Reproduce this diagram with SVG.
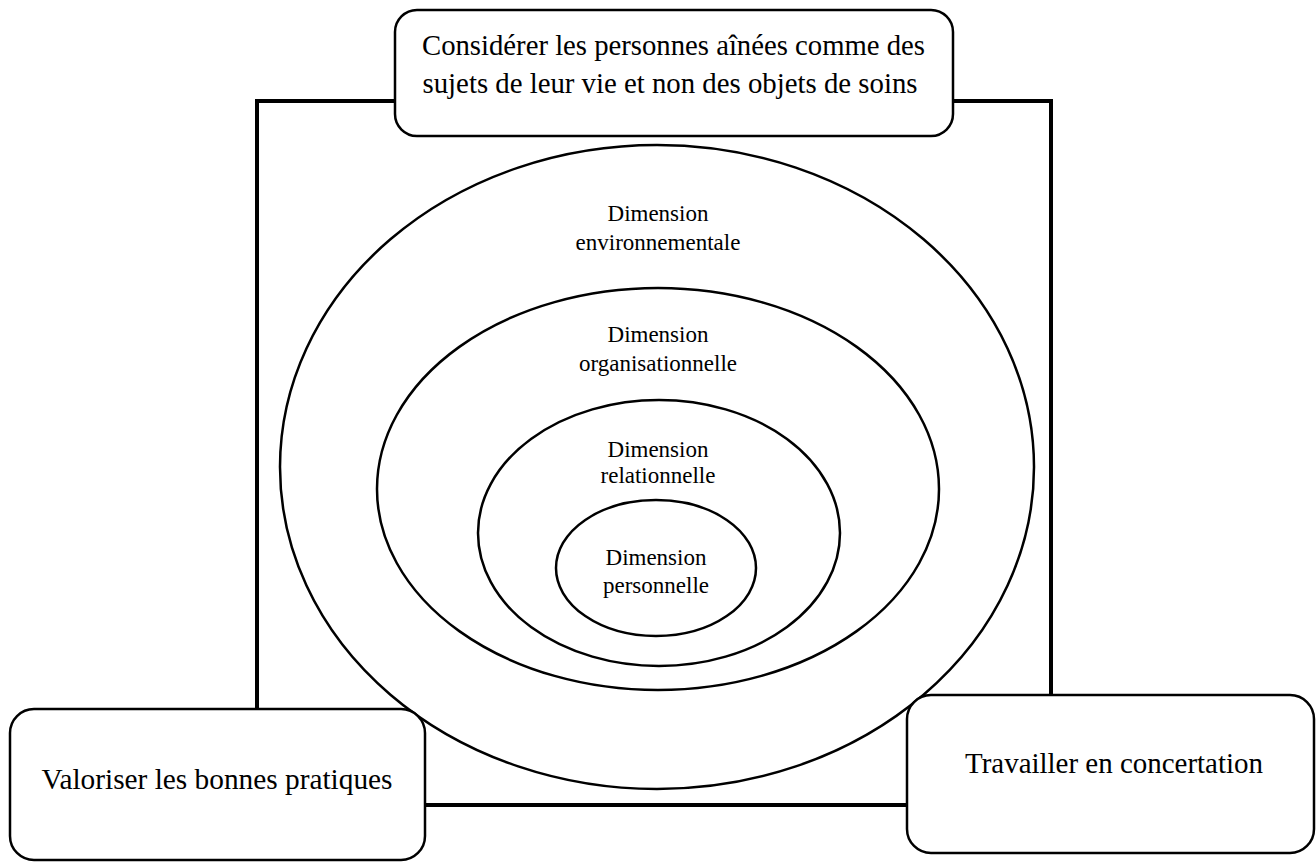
<svg xmlns="http://www.w3.org/2000/svg" width="1316" height="863" viewBox="0 0 1316 863">
<style>
.frame{fill:none;stroke:#000;stroke-width:4}
.ell{fill:none;stroke:#000;stroke-width:2.5}
.box{fill:#fff;stroke:#000;stroke-width:2.5}
.big{font-family:"Liberation Serif",serif;font-size:30px;fill:#000;text-anchor:middle}
.sm{font-family:"Liberation Serif",serif;font-size:23px;fill:#000;text-anchor:middle}
</style>
<rect width="1316" height="863" fill="#fff"/>
<g id="connectors">
<rect class="frame" x="257" y="101" width="794" height="704"/>
</g>
<g id="env">
<ellipse class="ell" cx="657" cy="467" rx="377" ry="322"/>
<text class="sm" x="658" y="221">Dimension</text>
<text class="sm" x="658" y="250">environnementale</text>
</g>
<g id="org">
<ellipse class="ell" cx="658" cy="489" rx="281" ry="201"/>
<text class="sm" x="658" y="342">Dimension</text>
<text class="sm" x="658" y="371">organisationnelle</text>
</g>
<g id="rel">
<ellipse class="ell" cx="659" cy="533" rx="181" ry="133"/>
<text class="sm" x="658" y="457">Dimension</text>
<text class="sm" x="658" y="483">relationnelle</text>
</g>
<g id="pers">
<ellipse class="ell" cx="656" cy="568" rx="100" ry="68"/>
<text class="sm" x="656" y="565">Dimension</text>
<text class="sm" x="656" y="593">personnelle</text>
</g>
<g id="top">
<rect class="box" x="395" y="10" width="558" height="126" rx="22"/>
<text class="big" x="673.5" y="55" textLength="503" lengthAdjust="spacingAndGlyphs">Considérer les personnes aînées comme des</text>
<text class="big" x="670" y="93" textLength="495" lengthAdjust="spacingAndGlyphs">sujets de leur vie et non des objets de soins</text>
</g>
<g id="left">
<rect class="box" x="10" y="709" width="415" height="151" rx="24"/>
<text class="big" x="217" y="789" textLength="351" lengthAdjust="spacingAndGlyphs">Valoriser les bonnes pratiques</text>
</g>
<g id="right">
<rect class="box" x="907" y="695" width="407" height="158" rx="24"/>
<text class="big" x="1114" y="773" textLength="298" lengthAdjust="spacingAndGlyphs">Travailler en concertation</text>
</g>
</svg>
